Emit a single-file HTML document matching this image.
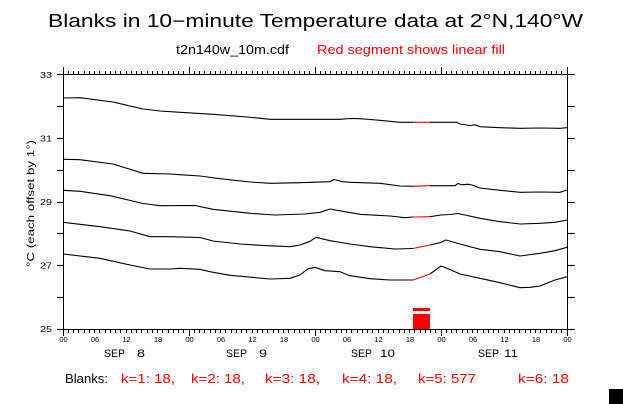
<!DOCTYPE html>
<html><head><meta charset="utf-8"><style>
html,body{margin:0;padding:0;background:#fff;}
svg{display:block;}
text{font-family:"Liberation Sans",sans-serif;}
</style></head><body>
<svg width="623" height="404" viewBox="0 0 623 404" xmlns="http://www.w3.org/2000/svg">
<rect width="623" height="404" fill="#fff"/>
<!-- titles -->
<text x="48" y="27" font-size="18" textLength="535" lengthAdjust="spacingAndGlyphs">Blanks in 10−minute Temperature data at 2°N,140°W</text>
<text x="176" y="54" font-size="13" textLength="113" lengthAdjust="spacingAndGlyphs">t2n140w_10m.cdf</text>
<text x="317" y="54" font-size="13" fill="#f00" textLength="188" lengthAdjust="spacingAndGlyphs">Red segment shows linear fill</text>

<!-- axes -->
<g stroke="#000" stroke-width="1" shape-rendering="crispEdges" fill="none">
<line x1="63.5" y1="67" x2="63.5" y2="336"/>
<line x1="567.5" y1="67" x2="567.5" y2="336"/>
<line x1="63" y1="74.5" x2="568" y2="74.5"/>
<line x1="63" y1="329.5" x2="568" y2="329.5"/>
<path id="yt" d="M57 74.5H63M57 106.5H63M57 138.5H63M57 170.5H63M57 202.5H63M57 233.5H63M57 265.5H63M57 297.5H63M57 329.5H63
M567 74.5H575M567 106.5H575M567 138.5H575M567 170.5H575M567 202.5H575M567 233.5H575M567 265.5H575M567 297.5H575M567 329.5H575"/>
<path d="M68.5 71V75M73.5 71V75M78.5 71V75M84.5 71V75M89.5 71V75M94.5 71V75M99.5 71V75M105.5 71V75M110.5 71V75M115.5 71V75M120.5 71V75M126.5 71V75M131.5 71V75M136.5 71V75M141.5 71V75M147.5 71V75M152.5 71V75M157.5 71V75M162.5 71V75M168.5 71V75M173.5 71V75M178.5 71V75M183.5 71V75
M189.5 67V75M194.5 71V75M199.5 71V75M204.5 71V75M210.5 71V75M215.5 71V75M220.5 71V75M225.5 71V75M231.5 71V75M236.5 71V75M241.5 71V75M246.5 71V75M252.5 71V75M257.5 71V75M262.5 71V75M267.5 71V75M273.5 71V75M278.5 71V75M283.5 71V75M288.5 71V75M294.5 71V75M299.5 71V75M304.5 71V75M309.5 71V75
M315.5 67V75M320.5 71V75M325.5 71V75M330.5 71V75M336.5 71V75M341.5 71V75M346.5 71V75M351.5 71V75M357.5 71V75M362.5 71V75M367.5 71V75M372.5 71V75M378.5 71V75M383.5 71V75M388.5 71V75M393.5 71V75M399.5 71V75M404.5 71V75M409.5 71V75M414.5 71V75M420.5 71V75M425.5 71V75M430.5 71V75M435.5 71V75
M441.5 67V75M446.5 71V75M451.5 71V75M456.5 71V75M462.5 71V75M467.5 71V75M472.5 71V75M477.5 71V75M483.5 71V75M488.5 71V75M493.5 71V75M498.5 71V75M504.5 71V75M509.5 71V75M514.5 71V75M519.5 71V75M525.5 71V75M530.5 71V75M535.5 71V75M540.5 71V75M546.5 71V75M551.5 71V75M556.5 71V75M561.5 71V75"/>
<path d="M68.5 329V333M73.5 329V333M78.5 329V333M84.5 329V333M89.5 329V333M94.5 329V333M99.5 329V333M105.5 329V333M110.5 329V333M115.5 329V333M120.5 329V333M126.5 329V333M131.5 329V333M136.5 329V333M141.5 329V333M147.5 329V333M152.5 329V333M157.5 329V333M162.5 329V333M168.5 329V333M173.5 329V333M178.5 329V333M183.5 329V333
M189.5 329V336M194.5 329V333M199.5 329V333M204.5 329V333M210.5 329V333M215.5 329V333M220.5 329V333M225.5 329V333M231.5 329V333M236.5 329V333M241.5 329V333M246.5 329V333M252.5 329V333M257.5 329V333M262.5 329V333M267.5 329V333M273.5 329V333M278.5 329V333M283.5 329V333M288.5 329V333M294.5 329V333M299.5 329V333M304.5 329V333M309.5 329V333
M315.5 329V336M320.5 329V333M325.5 329V333M330.5 329V333M336.5 329V333M341.5 329V333M346.5 329V333M351.5 329V333M357.5 329V333M362.5 329V333M367.5 329V333M372.5 329V333M378.5 329V333M383.5 329V333M388.5 329V333M393.5 329V333M399.5 329V333M404.5 329V333M409.5 329V333M414.5 329V333M420.5 329V333M425.5 329V333M430.5 329V333M435.5 329V333
M441.5 329V336M446.5 329V333M451.5 329V333M456.5 329V333M462.5 329V333M467.5 329V333M472.5 329V333M477.5 329V333M483.5 329V333M488.5 329V333M493.5 329V333M498.5 329V333M504.5 329V333M509.5 329V333M514.5 329V333M519.5 329V333M525.5 329V333M530.5 329V333M535.5 329V333M540.5 329V333M546.5 329V333M551.5 329V333M556.5 329V333M561.5 329V333"/>
</g>

<!-- y labels -->
<g font-size="8.5">
<text x="40" y="78" textLength="12" lengthAdjust="spacingAndGlyphs">33</text>
<text x="40" y="141.5" textLength="12" lengthAdjust="spacingAndGlyphs">31</text>
<text x="40" y="205" textLength="12" lengthAdjust="spacingAndGlyphs">29</text>
<text x="40" y="268.5" textLength="12" lengthAdjust="spacingAndGlyphs">27</text>
<text x="40" y="332" textLength="12" lengthAdjust="spacingAndGlyphs">25</text>
</g>
<text transform="translate(34,203.5) rotate(-90)" text-anchor="middle" font-size="10" textLength="127" lengthAdjust="spacingAndGlyphs">°C (each offset by 1°)</text>

<!-- x tick labels -->
<g font-size="7.5" text-anchor="middle">
<text x="63.5" y="342">00</text><text x="95" y="342">06</text><text x="126.5" y="342">12</text><text x="158" y="342">18</text>
<text x="189.5" y="342">00</text><text x="221" y="342">06</text><text x="252.5" y="342">12</text><text x="284" y="342">18</text>
<text x="315.5" y="342">00</text><text x="347" y="342">06</text><text x="378.5" y="342">12</text><text x="410" y="342">18</text>
<text x="441.5" y="342">00</text><text x="473" y="342">06</text><text x="504.5" y="342">12</text><text x="536" y="342">18</text>
<text x="567.5" y="342">00</text>
</g>
<g font-size="11">
<text x="104" y="357" textLength="21" lengthAdjust="spacingAndGlyphs">SEP</text><text x="137" y="357" textLength="8" lengthAdjust="spacingAndGlyphs">8</text>
<text x="226" y="357" textLength="21" lengthAdjust="spacingAndGlyphs">SEP</text><text x="259" y="357" textLength="8" lengthAdjust="spacingAndGlyphs">9</text>
<text x="351" y="357" textLength="21" lengthAdjust="spacingAndGlyphs">SEP</text><text x="380" y="357" textLength="15" lengthAdjust="spacingAndGlyphs">10</text>
<text x="478" y="357" textLength="21" lengthAdjust="spacingAndGlyphs">SEP</text><text x="504" y="357" textLength="14" lengthAdjust="spacingAndGlyphs">11</text>
</g>

<!-- curves -->
<g fill="none" stroke="#000" stroke-width="1.1" stroke-linejoin="round">
<polyline points="63,98 80,97.7 113,102 143,109 160,111 180,112.3 213,114.3 247,117 270,119.3 340,119.3 350,118.5 360,118.7 370,119.5 380,120.3 400,122.3 413,122.3"/>
<polyline points="430,122.3 457,122.3 460,124 470,125.5 475,124.8 480,126.7 500,127.7 520,128.3 540,128 560,128.3 567,127.7"/>
<polyline points="63,159.3 80,159.7 113,164 143,173.3 170,174 180,174.7 200,176 220,178.7 250,182 270,183.3 300,182.7 330,181.7 334,179.5 338,180.5 342,181.7 350,182.3 380,183.3 400,186 413,186.3"/>
<polyline points="430,185.7 455,185.7 458,183.5 462,184.8 468,184.2 472,185 480,188 500,190.3 520,192.3 540,192 560,192.3 567,190"/>
<polyline points="63,190.3 80,191.3 110,195.7 143,203.5 160,205.7 195,205.5 213,209.3 250,213.3 275,215 305,214 320,212.3 330,209 345,211.7 360,214.3 390,216 405,217.7 413,217"/>
<polyline points="430,216.7 441,215 450,214.5 458,213.5 465,215 480,218.3 500,221.7 520,224 540,223.3 555,222.3 567,220"/>
<polyline points="63,222.3 100,226.7 130,231 150,236.7 170,236.7 200,237.5 213,241 240,244 260,245.3 290,246.7 300,245 310,241.3 316,237.3 330,240.7 350,244 370,246.7 395,249 413,248.5"/>
<polyline points="430,245 440,242.7 446,240 460,244 480,249.3 500,251.7 520,256 540,253.3 555,250.7 567,247.3"/>
<polyline points="63,254 100,258.3 130,265 150,269 170,269 180,268.3 200,269.3 210,271.7 230,275.3 270,279 290,278.3 300,275 308,268.7 315,267.3 325,270.7 340,271.7 350,275.7 370,278.7 390,280 413,280"/>
<polyline points="430,274 441,266 447,268.3 460,274 480,278.3 500,282.7 520,287.7 530,287.3 540,286 555,280 567,276.7"/>
</g>
<g fill="none" stroke="#f00" stroke-width="1.1">
<polyline points="413,122.3 430,122.3"/>
<polyline points="413,186.3 430,185.7"/>
<polyline points="413,217 430,216.7"/>
<polyline points="413,248.5 430,245"/>
<polyline points="413,280 430,274"/>
</g>
<rect x="413" y="308" width="17" height="3" fill="#f00"/>
<rect x="413" y="314" width="17" height="15" fill="#f00"/>

<!-- blanks row -->
<g font-size="13">
<text x="65" y="383" textLength="43" lengthAdjust="spacingAndGlyphs">Blanks:</text>
<g fill="#f00">
<text x="121" y="383" textLength="54" lengthAdjust="spacingAndGlyphs">k=1: 18,</text>
<text x="191" y="383" textLength="54" lengthAdjust="spacingAndGlyphs">k=2: 18,</text>
<text x="265" y="383" textLength="55" lengthAdjust="spacingAndGlyphs">k=3: 18,</text>
<text x="342" y="383" textLength="55" lengthAdjust="spacingAndGlyphs">k=4: 18,</text>
<text x="418" y="383" textLength="58" lengthAdjust="spacingAndGlyphs">k=5: 577</text>
<text x="518" y="383" textLength="51" lengthAdjust="spacingAndGlyphs">k=6: 18</text>
</g>
</g>
<rect x="609" y="389" width="14" height="15" fill="#000"/>
</svg>
</body></html>
